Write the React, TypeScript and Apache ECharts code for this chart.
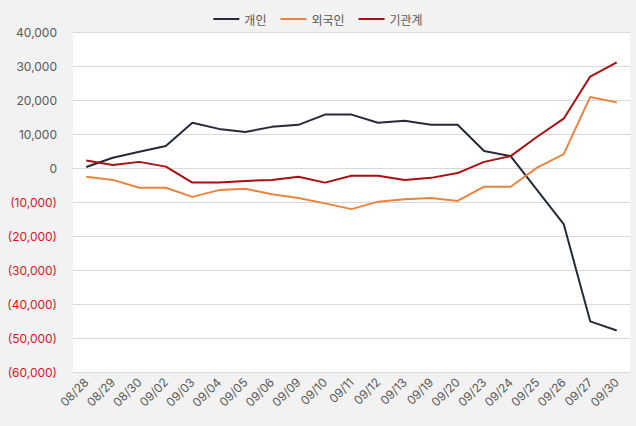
import React, { useEffect, useRef } from "react";
import * as echarts from "echarts";

const categories = ["08/28","08/29","08/30","09/02","09/03","09/04","09/05","09/06","09/09","09/10","09/11","09/12","09/13","09/19","09/20","09/23","09/24","09/25","09/26","09/27","09/30"];
const individual = [300,3000,4800,6500,13300,11500,10600,12100,12700,15700,15700,13300,13900,12700,12700,5000,3500,-6500,-16500,-45100,-47800];
const foreign = [-2600,-3500,-5800,-5800,-8500,-6500,-6100,-7700,-8800,-10400,-12100,-9900,-9200,-8800,-9700,-5500,-5500,100,4100,20900,19300];
const institution = [2200,900,1800,400,-4300,-4300,-3800,-3500,-2600,-4300,-2300,-2300,-3500,-2900,-1500,1800,3500,9200,14500,26900,31100];
const seriesNames = ["개인", "외국인", "기관계"];
const colors = ["#252b36", "#e8843d", "#a80f12"];

const FONT = "Inter, 'Noto Sans CJK KR', sans-serif";

export default function App() {
  const ref = useRef<HTMLDivElement>(null);
  useEffect(() => {
    document.body.style.margin = "0";
    const chart = echarts.init(ref.current!, null, { renderer: "svg" });
    const fmt = (v: number) => {
      const s = Math.abs(v).toLocaleString("en-US");
      return v < 0 ? `{neg|(${s})}` : `{pos|${s}}`;
    };
    chart.setOption({
      animation: false,
      backgroundColor: "#f2f2f2",
      textStyle: { fontFamily: FONT },
      color: colors,
      legend: {
        top: 8,
        left: "center",
        itemWidth: 26,
        itemHeight: 2,
        itemGap: 14,
        icon: "rect",
        textStyle: { fontFamily: "'Noto Sans CJK KR', sans-serif", fontSize: 12, color: "#595959" },
        data: seriesNames,
      },
      grid: {
        left: 73,
        right: 6,
        top: 32,
        bottom: 54,
        show: true,
        backgroundColor: "#ffffff",
        borderWidth: 0,
      },
      xAxis: {
        type: "category",
        data: categories,
        boundaryGap: true,
        axisLine: { show: true, lineStyle: { color: "#d9d9d9" } },
        axisTick: { show: false },
        axisLabel: {
          rotate: 45,
          interval: 0,
          fontFamily: FONT,
          fontSize: 12,
          color: "#595959",
          margin: 8,
        },
      },
      yAxis: {
        type: "value",
        min: -60000,
        max: 40000,
        interval: 10000,
        axisLine: { show: false },
        axisTick: { show: false },
        splitLine: { lineStyle: { color: "#d9d9d9" } },
        axisLabel: {
          formatter: fmt,
          margin: 16,
          rich: {
            pos: { color: "#595959", fontSize: 12, fontFamily: FONT },
            neg: { color: "#e0161b", fontSize: 12, fontFamily: FONT },
          },
        },
      },
      series: [individual, foreign, institution].map((d, i) => ({
        name: seriesNames[i],
        type: "line",
        data: d,
        symbol: "none",
        lineStyle: { width: 2, color: colors[i] },
        itemStyle: { color: colors[i] },
      })),
    });
    return () => chart.dispose();
  }, []);
  return <div ref={ref} style={{ width: 636, height: 426 }} />;
}
